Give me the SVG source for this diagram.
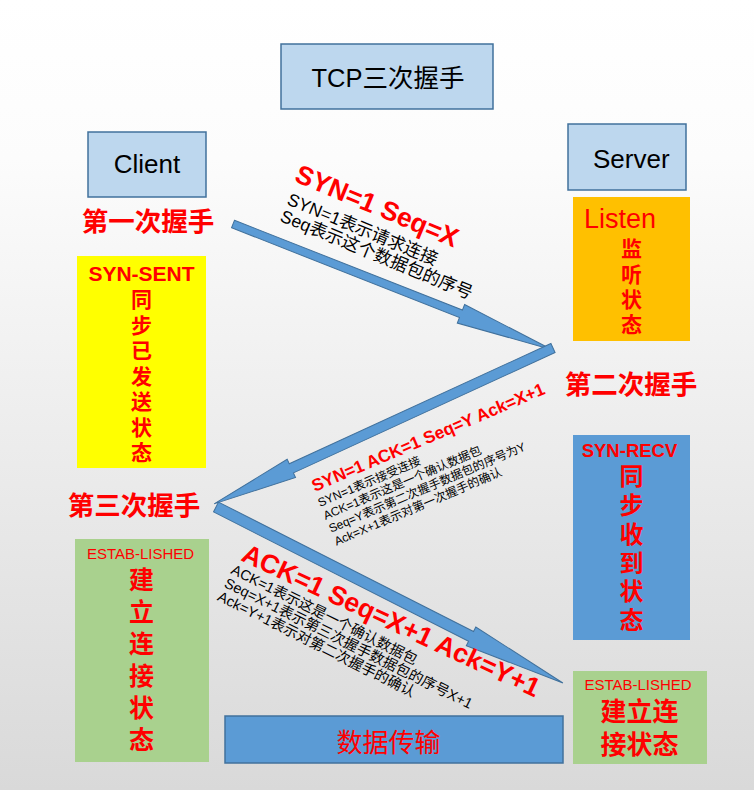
<svg xmlns="http://www.w3.org/2000/svg" width="754" height="790" viewBox="0 0 754 790">
<defs>
<linearGradient id="bg" x1="0" y1="0" x2="0" y2="1">
<stop offset="0" stop-color="#ffffff"/>
<stop offset="0.2" stop-color="#fcfcfc"/>
<stop offset="1" stop-color="#d9d9d9"/>
</linearGradient>
<style>
.f{font-family:"Liberation Sans","Noto Sans CJK SC",sans-serif}
.box{fill:#bdd7ee;stroke:#41719c;stroke-width:1.5}
.red{fill:#ff0000}
.b{font-weight:bold}
.blk{fill:#000000}
.arr{fill:#5b9bd5;stroke:#41719c;stroke-width:1}
.mid{text-anchor:middle}
</style>
</defs>
<rect x="0" y="0" width="754" height="790" fill="url(#bg)"/>

<g id="title">
<rect class="box" x="281" y="44" width="212" height="65"/>
<text class="f blk mid" x="388" y="87" font-size="25.5">TCP三次握手</text>
</g>

<g id="client">
<rect class="box" x="88" y="132" width="118" height="65"/>
<text class="f blk mid" x="147" y="173" font-size="26">Client</text>
</g>

<g id="server">
<rect class="box" x="568" y="124" width="118" height="66"/>
<text class="f blk" x="593" y="168" font-size="26">Server</text>
</g>

<g id="step1-label">
<text class="f red b mid" x="148" y="231" font-size="26.5">第一次握手</text>
</g>
<g id="step2-label">
<text class="f red b mid" x="631" y="394" font-size="26.5">第二次握手</text>
</g>
<g id="step3-label">
<text class="f red b mid" x="134" y="515" font-size="26.5">第三次握手</text>
</g>

<g id="syn-sent">
<rect x="77" y="256" width="129" height="212" fill="#ffff00"/>
<text class="f red b mid" x="141.5" y="281" font-size="21">SYN-SENT</text>
<g class="f red b mid" font-size="21">
<text x="141.5" y="307">同</text>
<text x="141.5" y="332.5">步</text>
<text x="141.5" y="358">已</text>
<text x="141.5" y="383.5">发</text>
<text x="141.5" y="409">送</text>
<text x="141.5" y="434.5">状</text>
<text x="141.5" y="460">态</text>
</g>
</g>

<g id="listen">
<rect x="573" y="197" width="117" height="144" fill="#ffc000"/>
<text class="f red" x="584" y="228" font-size="27">Listen</text>
<g class="f red b mid" font-size="21">
<text x="631.5" y="256">监</text>
<text x="631.5" y="281.5">听</text>
<text x="631.5" y="307">状</text>
<text x="631.5" y="332">态</text>
</g>
</g>

<g id="syn-recv">
<rect x="573" y="435" width="117" height="205" fill="#5b9bd5"/>
<text class="f red b mid" x="629.5" y="457" font-size="18.5">SYN-RECV</text>
<g class="f red b mid" font-size="24">
<text x="631.5" y="485">同</text>
<text x="631.5" y="514">步</text>
<text x="631.5" y="543">收</text>
<text x="631.5" y="572">到</text>
<text x="631.5" y="600">状</text>
<text x="631.5" y="629">态</text>
</g>
</g>

<g id="estab-server">
<rect x="573" y="671" width="134" height="93" fill="#a9d18e"/>
<text class="f red mid" x="638" y="690" font-size="15">ESTAB-LISHED</text>
<text class="f red b mid" x="639.5" y="721" font-size="26">建立连</text>
<text class="f red b mid" x="639.5" y="754" font-size="26">接状态</text>
</g>

<g id="estab-client">
<rect x="75" y="539" width="134" height="223" fill="#a9d18e"/>
<text class="f red mid" x="140.5" y="559" font-size="15">ESTAB-LISHED</text>
<g class="f red b mid" font-size="25">
<text x="141.5" y="589">建</text>
<text x="141.5" y="621">立</text>
<text x="141.5" y="653">连</text>
<text x="141.5" y="685">接</text>
<text x="141.5" y="717">状</text>
<text x="141.5" y="749">态</text>
</g>
</g>

<g id="data">
<rect x="225" y="716" width="338" height="47" fill="#5b9bd5" stroke="#41719c" stroke-width="1.5"/>
<text class="f red mid" x="388.5" y="752" font-size="26">数据传输</text>
</g>

<g id="connectors">
<polygon class="arr" transform="translate(233,224) rotate(21.5)" points="0,-4 245,-4 245,-10 343,0 245,10 245,4 0,4"/>
<polygon class="arr" transform="translate(553,348) rotate(155.3)" points="0,-5 288,-5 288,-10 373,0 288,10 288,5 0,5"/>
<polygon class="arr" transform="translate(216,507) rotate(26.9)" points="0,-5.5 286,-5.5 286,-10.5 389,0 286,10.5 286,5.5 0,5.5"/>
</g>

<g id="label-syn" transform="translate(286,204) rotate(22.5)">
<text class="f red b" x="-2" y="-24" font-size="26.5">SYN=1 Seq=X</text>
<text class="f blk" x="0" y="0" font-size="17.5">SYN=1表示请求连接</text>
<text class="f blk" x="0" y="18" font-size="17.5">Seq表示这个数据包的序号</text>
</g>

<g id="label-synack" transform="translate(320,507) rotate(-23)">
<text class="f red b" x="1" y="-16" font-size="17.3">SYN=1 ACK=1 Seq=Y Ack=X+1</text>
<text class="f blk" x="0" y="0" font-size="12">SYN=1表示接受连接</text>
<text class="f blk" x="0" y="14" font-size="12">ACK=1表示这是一个确认数据包</text>
<text class="f blk" x="0" y="28" font-size="12">Seq=Y表示第二次握手数据包的序号为Y</text>
<text class="f blk" x="0" y="42" font-size="12">Ack=X+1表示对第一次握手的确认</text>
</g>

<g id="label-ack">
<text class="f red b" transform="translate(240,560) rotate(25)" font-size="26.5">ACK=1 Seq=X+1 Ack=Y+1</text>
<g transform="translate(230,573) rotate(26.5)">
<text class="f blk" x="0" y="0" font-size="14.5">ACK=1表示这是一个确认数据包</text>
<text class="f blk" x="0" y="15" font-size="14.5">Seq=X+1表示第三次握手数据包的序号X+1</text>
<text class="f blk" x="0" y="30" font-size="14.5">Ack=Y+1表示对第二次握手的确认</text>
</g>
</g>
</svg>
